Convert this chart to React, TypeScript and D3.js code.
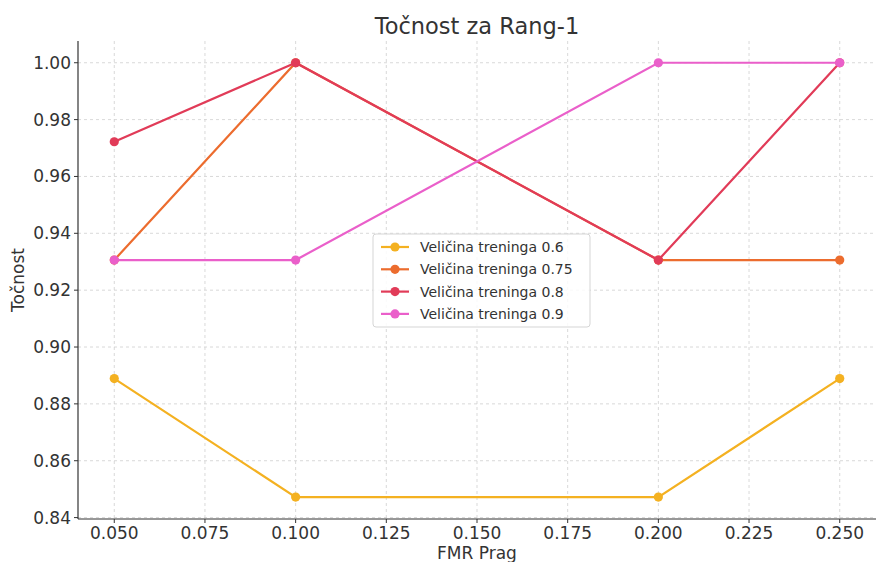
import React from "react";
import * as d3 from "d3";

const xValues = [0.05, 0.1, 0.2, 0.25];
const seriesNames = ["Veličina treninga 0.6", "Veličina treninga 0.75", "Veličina treninga 0.8", "Veličina treninga 0.9"];
const series06 = [0.8889, 0.8472, 0.8472, 0.8889];
const series075 = [0.9306, 1.0, 0.9306, 0.9306];
const series08 = [0.9722, 1.0, 0.9306, 1.0];
const series09 = [0.9306, 0.9306, 1.0, 1.0];
const seriesColors = ["#f4b121", "#ec6c2e", "#e13b58", "#ea5fca"];
const xTicks = [0.05, 0.075, 0.1, 0.125, 0.15, 0.175, 0.2, 0.225, 0.25];
const yTicks = [0.84, 0.86, 0.88, 0.9, 0.92, 0.94, 0.96, 0.98, 1.0];

const W = 877, H = 562;
const left = 78, right = 876, top = 41, bottom = 519;
const font = "DejaVu Sans, sans-serif";

export default function App() {
  const x = d3.scaleLinear().domain([0.04, 0.26]).range([left, right]);
  const y = d3.scaleLinear().domain([0.8395, 1.00765]).range([bottom, top]);
  const all = [series06, series075, series08, series09];
  const line = d3.line<number>().x((_, i) => x(xValues[i])).y(d => y(d));
  const legX = 373, legY = 234, legW = 217, legH = 93;
  return (
    <svg width={W} height={H} style={{ position: "absolute", left: 0, top: 0, background: "#fff" }}>
      <rect width={W} height={H} fill="#fff" />
      {xTicks.map(t => (
        <line key={"gx" + t} x1={x(t)} x2={x(t)} y1={top} y2={bottom} stroke="#cfcfcf" strokeDasharray="3,3" strokeWidth={0.8} />
      ))}
      {yTicks.map(t => (
        <line key={"gy" + t} x1={left} x2={right} y1={y(t)} y2={y(t)} stroke="#cfcfcf" strokeDasharray="3,3" strokeWidth={0.8} />
      ))}
      {all.map((s, k) => (
        <g key={k}>
          <path d={line(s) || ""} fill="none" stroke={seriesColors[k]} strokeWidth={2.2} />
          {s.map((v, i) => (
            <circle key={i} cx={x(xValues[i])} cy={y(v)} r={4.6} fill={seriesColors[k]} />
          ))}
        </g>
      ))}
      <line x1={left} x2={left} y1={top} y2={bottom} stroke="#333" strokeWidth={1.2} />
      <line x1={left} x2={right} y1={bottom} y2={bottom} stroke="#333" strokeWidth={1.2} />
      {xTicks.map(t => (
        <g key={"tx" + t}>
          <line x1={x(t)} x2={x(t)} y1={bottom} y2={bottom + 4} stroke="#333" />
          <text x={x(t)} y={bottom + 20} textAnchor="middle" fontSize={17} fill="#333" fontFamily={font}>{t.toFixed(3)}</text>
        </g>
      ))}
      {yTicks.map(t => (
        <g key={"ty" + t}>
          <line x1={left - 4} x2={left} y1={y(t)} y2={y(t)} stroke="#333" />
          <text x={left - 7} y={y(t)} dy="0.35em" textAnchor="end" fontSize={17} fill="#333" fontFamily={font}>{t.toFixed(2)}</text>
        </g>
      ))}
      <text x={(left + right) / 2} y={34} textAnchor="middle" fontSize={22.5} fill="#333" fontFamily={font}>Točnost za Rang-1</text>
      <text x={(left + right) / 2} y={559} textAnchor="middle" fontSize={17} fill="#333" fontFamily={font}>FMR Prag</text>
      <text transform={`translate(24,${(top + bottom) / 2}) rotate(-90)`} textAnchor="middle" fontSize={17} fill="#333" fontFamily={font}>Točnost</text>
      <rect x={legX} y={legY} width={legW} height={legH} rx={3} fill="#fff" fillOpacity={0.85} stroke="#d5d5d5" />
      {seriesNames.map((n, k) => (
        <g key={n}>
          <line x1={legX + 8} x2={legX + 36} y1={legY + 13 + k * 22.3} y2={legY + 13 + k * 22.3} stroke={seriesColors[k]} strokeWidth={2.2} />
          <circle cx={legX + 22} cy={legY + 13 + k * 22.3} r={4.6} fill={seriesColors[k]} />
          <text x={legX + 47} y={legY + 13 + k * 22.3} dy="0.35em" fontSize={14} fill="#333" fontFamily={font}>{n}</text>
        </g>
      ))}
    </svg>
  );
}
